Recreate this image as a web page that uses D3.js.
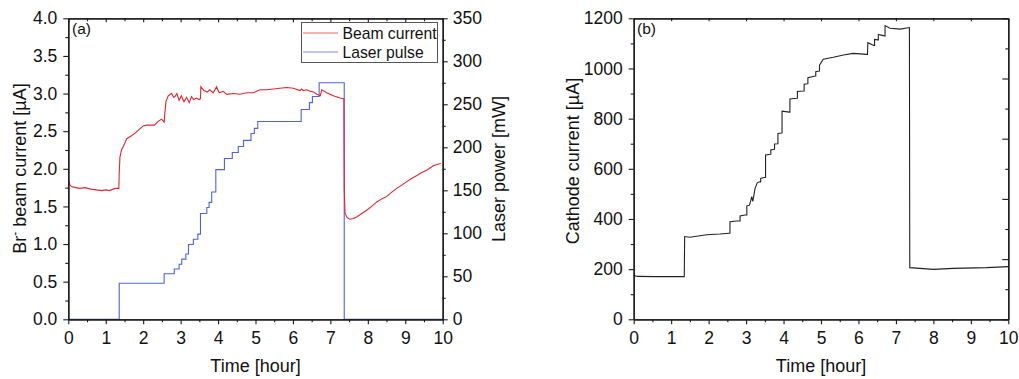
<!DOCTYPE html>
<html>
<head>
<meta charset="utf-8">
<script src="https://cdn.jsdelivr.net/npm/d3@7"></script>
<style>
  body { margin: 0; background: #fff; }
  svg text { font-family: "Liberation Sans", Arial, sans-serif; fill: #111; }
</style>
</head>
<body>
<svg id="chart" width="1019" height="379"></svg>
<script>
// time axis ticks (hours)
const timeTicks = d3.range(0, 11, 1);
const beamTicks = d3.range(0, 4.01, 0.5);
const laserTicks = d3.range(0, 351, 50);
const cathodeTicks = d3.range(0, 1201, 200);

// laser pulse: [start time, power mW] (step levels)
const laserPulse = [
  [0, 0], [1.36, 42], [2.56, 53], [2.83, 58.5], [2.96, 64], [3.03, 70], [3.14, 76],
  [3.21, 87], [3.34, 93], [3.46, 99], [3.53, 123], [3.70, 130], [3.76, 136],
  [3.83, 148], [3.94, 174], [4.17, 187], [4.38, 194], [4.54, 201], [4.68, 208],
  [4.88, 216], [4.97, 222], [5.06, 230], [6.22, 244], [6.44, 252], [6.52, 259],
  [6.70, 275], [7.37, 0], [10, 0]
];

// Br- beam current: [time, uA]
const beamCurrent = [
  [0, 1.85], [0.05, 1.78], [0.1, 1.76], [0.2, 1.75], [0.3, 1.74], [0.45, 1.75],
  [0.6, 1.73], [0.75, 1.72], [0.9, 1.71], [1.0, 1.72], [1.1, 1.71], [1.25, 1.74],
  [1.35, 1.74], [1.36, 1.95], [1.38, 2.16], [1.42, 2.25], [1.5, 2.33], [1.56, 2.40],
  [1.69, 2.44], [1.8, 2.48], [1.91, 2.53], [2.0, 2.57], [2.09, 2.58], [2.2, 2.58],
  [2.3, 2.58], [2.4, 2.63], [2.49, 2.66], [2.56, 2.62], [2.58, 2.75], [2.61, 2.90],
  [2.67, 2.97], [2.72, 2.99], [2.76, 3.0], [2.81, 2.95], [2.85, 2.96], [2.9, 3.0],
  [2.96, 2.91], [3.02, 2.97], [3.09, 2.89], [3.16, 2.95], [3.23, 2.88], [3.29, 2.96],
  [3.35, 2.92], [3.42, 2.94], [3.5, 2.92], [3.53, 2.93], [3.54, 3.09], [3.62, 3.04],
  [3.71, 3.02], [3.78, 3.05], [3.87, 3.01], [3.96, 3.09], [4.03, 3.01], [4.14, 3.03],
  [4.23, 2.99], [4.41, 3.0], [4.59, 2.99], [4.77, 3.01], [4.94, 3.01], [5.12, 3.05],
  [5.3, 3.05], [5.48, 3.06], [5.65, 3.07], [5.83, 3.08], [6.01, 3.07], [6.19, 3.04],
  [6.23, 3.06], [6.28, 3.04], [6.37, 3.05], [6.46, 3.03], [6.55, 3.02], [6.64, 2.99],
  [6.73, 2.97], [6.77, 3.05], [6.9, 3.01], [7.08, 2.97], [7.26, 2.94], [7.36, 2.93],
  [7.37, 1.74], [7.39, 1.41], [7.45, 1.35], [7.52, 1.33], [7.61, 1.34], [7.7, 1.36],
  [7.79, 1.39], [7.88, 1.42], [7.97, 1.45], [8.1, 1.50], [8.24, 1.56], [8.37, 1.60],
  [8.5, 1.63], [8.64, 1.69], [8.77, 1.74], [8.9, 1.78], [9.04, 1.83], [9.17, 1.87],
  [9.31, 1.91], [9.44, 1.95], [9.57, 1.98], [9.75, 2.04], [9.87, 2.06], [9.95, 2.07]
];

// cathode current: [time, uA]
const cathodeCurrent = [
  [0, 175], [0.1, 171], [0.6, 170], [1.0, 170], [1.35, 170], [1.36, 330], [1.5, 327],
  [1.95, 337], [2.3, 340], [2.55, 343], [2.57, 343], [2.57, 389], [2.75, 392],
  [2.84, 392], [2.84, 412], [2.97, 416], [3.02, 416], [3.02, 452], [3.09, 455],
  [3.12, 470], [3.15, 489], [3.18, 470], [3.24, 522], [3.3, 545], [3.37, 548],
  [3.39, 548], [3.39, 562], [3.51, 566], [3.52, 566], [3.52, 655], [3.65, 658],
  [3.66, 658], [3.66, 675], [3.75, 678], [3.76, 678], [3.76, 699], [3.84, 700],
  [3.85, 700], [3.85, 741], [3.95, 743], [3.96, 743], [3.96, 830], [4.16, 826],
  [4.17, 826], [4.17, 878], [4.36, 881], [4.37, 881], [4.37, 908], [4.54, 910],
  [4.55, 910], [4.55, 937], [4.64, 939], [4.65, 939], [4.65, 963], [4.85, 970],
  [4.86, 970], [4.86, 987], [4.95, 990], [4.96, 990], [4.96, 1013], [5.06, 1037],
  [5.33, 1045], [5.6, 1054], [5.86, 1060], [6.05, 1058], [6.22, 1056], [6.24, 1056],
  [6.25, 1103], [6.41, 1092], [6.43, 1092], [6.43, 1116], [6.52, 1114], [6.53, 1114],
  [6.53, 1136], [6.69, 1130], [6.71, 1130], [6.71, 1171], [6.84, 1160], [7.11, 1157],
  [7.36, 1163], [7.37, 206], [7.64, 203], [8.0, 199], [8.53, 203], [9.42, 206], [10, 210]
];

const svg = d3.select("#chart");
svg.append("rect").attr("width", 1019).attr("height", 379).attr("fill", "#fff");

const plotTop = 18.3, plotBottom = 319.3;
const axisColor = "#1a1a1a";
const tickFont = 17.5, titleFont = 18;

function styleAxis(g) {
  g.selectAll("path.domain").attr("stroke", axisColor).attr("stroke-width", 1.3);
  g.selectAll(".tick line").attr("stroke", axisColor).attr("stroke-width", 1.1);
  g.selectAll("text").attr("font-size", tickFont).attr("font-family", "Liberation Sans, Arial, sans-serif").attr("fill", "#111");
}

// draws minor ticks then major ticks with labels
function drawAxis(parent, axisFn, scale, translate, majors, minors, majorLen, minorLen, pad, fmt) {
  const gMinor = parent.append("g").attr("transform", translate)
    .call(axisFn(scale).tickValues(minors).tickSize(minorLen).tickSizeOuter(0).tickFormat(""));
  styleAxis(gMinor);
  const ax = axisFn(scale).tickValues(majors).tickSize(majorLen).tickSizeOuter(0).tickPadding(pad);
  ax.tickFormat(fmt || "");
  const g = parent.append("g").attr("transform", translate).call(ax);
  styleAxis(g);
  return g;
}

function halfSteps(lo, hi, step) {
  return d3.range(lo + step / 2, hi, step);
}

// ---------------- panel (a) ----------------
const xa = d3.scaleLinear().domain([0, 10]).range([68.3, 442.7]);
const ya = d3.scaleLinear().domain([0, 4]).range([plotBottom, plotTop]);
const yr = d3.scaleLinear().domain([0, 350]).range([plotBottom, plotTop]);

const pa = svg.append("g");

pa.append("path")
  .datum(laserPulse)
  .attr("fill", "none")
  .attr("stroke", "#4f63dc")
  .attr("stroke-width", 1.1)
  .attr("d", d3.line().x(d => xa(d[0])).y(d => yr(d[1])).curve(d3.curveStepAfter));

pa.append("path")
  .datum(beamCurrent)
  .attr("fill", "none")
  .attr("stroke", "#e3262b")
  .attr("stroke-width", 1.1)
  .attr("d", d3.line().x(d => xa(d[0])).y(d => ya(d[1])));

drawAxis(pa, d3.axisBottom, xa, `translate(0,${plotBottom})`, timeTicks, halfSteps(0, 10, 1), 5, 3, 7, d3.format("d"));
drawAxis(pa, d3.axisTop, xa, `translate(0,${plotTop})`, timeTicks, halfSteps(0, 10, 1), -4, -3, 4, null);
drawAxis(pa, d3.axisLeft, ya, `translate(68.3,0)`, beamTicks, halfSteps(0, 4, 0.5), 5, 3, 6, d3.format(".1f"));
drawAxis(pa, d3.axisRight, yr, `translate(442.7,0)`, laserTicks, halfSteps(0, 350, 50), 5, 3, 5, d3.format("d"));

pa.append("text").attr("x", 72).attr("y", 34).attr("font-size", 15.5).text("(a)");

// legend
const leg = pa.append("g");
leg.append("rect").attr("x", 301.5).attr("y", 22.5).attr("width", 136).attr("height", 40)
  .attr("fill", "#fff").attr("stroke", "#555").attr("stroke-width", 1);
const legendItems = [["Beam current", "#e3262b"], ["Laser pulse", "#4f63dc"]];
legendItems.forEach((d, i) => {
  const yy = 33 + i * 19;
  leg.append("line").attr("x1", 303).attr("x2", 338).attr("y1", yy).attr("y2", yy)
    .attr("stroke", d[1]).attr("stroke-width", 1.1).attr("opacity", 0.7);
  leg.append("text").attr("x", 342.5).attr("y", yy + 5.5).attr("font-size", 15.7).text(d[0]);
});

// axis titles
const ltitle = pa.append("text")
  .attr("transform", "translate(25.5,168.5) rotate(-90)")
  .attr("text-anchor", "middle")
  .attr("font-size", titleFont);
ltitle.append("tspan").text("Br");
ltitle.append("tspan").attr("dy", -7).attr("font-size", 12).text("-");
ltitle.append("tspan").attr("dy", 7).text(" beam current [\u00b5A]");

pa.append("text")
  .attr("transform", "translate(504.5,169) rotate(-90)")
  .attr("text-anchor", "middle")
  .attr("font-size", titleFont)
  .text("Laser power [mW]");

pa.append("text").attr("x", 255.5).attr("y", 372).attr("text-anchor", "middle")
  .attr("font-size", titleFont).text("Time [hour]");

// ---------------- panel (b) ----------------
const xb = d3.scaleLinear().domain([0, 10]).range([633.7, 1008.3]);
const yb = d3.scaleLinear().domain([0, 1200]).range([plotBottom, plotTop]);
const yb2 = d3.scaleLinear().domain([0, 1000]).range([plotBottom, plotTop]);

const pb = svg.append("g");

pb.append("path")
  .datum(cathodeCurrent)
  .attr("fill", "none")
  .attr("stroke", "#222")
  .attr("stroke-width", 1.1)
  .attr("d", d3.line().x(d => xb(d[0])).y(d => yb(d[1])));

drawAxis(pb, d3.axisBottom, xb, `translate(0,${plotBottom})`, timeTicks, halfSteps(0, 10, 1), 5, 3, 7, d3.format("d"));
drawAxis(pb, d3.axisTop, xb, `translate(0,${plotTop})`, timeTicks, [], -3, 0, 4, null);
drawAxis(pb, d3.axisLeft, yb, `translate(633.7,0)`, cathodeTicks, halfSteps(0, 1200, 200), 5, 3, 6, d3.format("d"));
drawAxis(pb, d3.axisRight, yb2, `translate(1008.3,0)`, d3.range(0, 1001, 200), halfSteps(0, 1000, 200), -6, -3, 4, null);

pb.append("text").attr("x", 637).attr("y", 34).attr("font-size", 15.5).text("(b)");

pb.append("text")
  .attr("transform", "translate(578.5,161) rotate(-90)")
  .attr("text-anchor", "middle")
  .attr("font-size", titleFont)
  .text("Cathode current [\u00b5A]");

pb.append("text").attr("x", 821).attr("y", 372).attr("text-anchor", "middle")
  .attr("font-size", titleFont).text("Time [hour]");
</script>
</body>
</html>
